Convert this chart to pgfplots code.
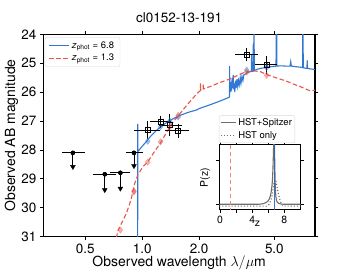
\documentclass[border=0pt]{standalone}
\usepackage{fontspec}
\setmainfont{TeX Gyre Heros}
\usepackage{pgfplots}
\usepackage{pgfplotstable}
\pgfplotsset{compat=1.18}
\usetikzlibrary{arrows.meta}
\definecolor{cblue}{RGB}{50,120,210}
\definecolor{cred}{RGB}{232,85,75}
\definecolor{cgray}{RGB}{110,110,110}

\pgfplotstableread{
x y xm xp ye
1.07 27.31 0.14 0.14 0.22
1.25 27.02 0.12 0.13 0.12
1.40 27.14 0.13 0.17 0.30
1.55 27.33 0.18 0.17 0.15
3.57 24.71 0.37 0.38 0.14
4.55 25.05 0.45 0.47 0.22
}\detections

\pgfplotstableread{
x y xm xp ye ytip
0.430 28.10 0.041 0.050 0.48 28.58
0.634 28.84 0.069 0.073 0.54 29.38
0.767 28.79 0.067 0.073 0.54 29.33
0.905 28.10 0.057 0.073 0.45 28.55
}\ulims

\begin{document}
\begin{tikzpicture}
\path[use as bounding box] (0,0) rectangle (349bp,279bp);
\begin{axis}[
  at={(43.3bp,42.3bp)}, anchor=south west,
  scale only axis, width=271.7bp, height=202.4bp,
  xmode=log, xmin=0.30, xmax=8.2, ymin=24, ymax=31, y dir=reverse,
  xtick={0.5,1,2,5}, xticklabels={0.5,1.0,2.0,5.0}, xminorticks=false,
  ytick={24,25,26,27,28,29,30,31},
  tick align=outside, major tick length=3.5bp,
  tick style={black, line width=0.8bp},
  axis line style={line width=1.1bp},
  ticklabel style={font=\fontsize{13.5}{15}\selectfont},
  /pgf/number format/assume math mode=true,
  title={cl0152-13-191},
  title style={font=\fontsize{13.5}{15}\selectfont, at={(axis description cs:0.5,1)}, anchor=base, yshift=5.5bp, inner sep=0pt},
  xlabel={Observed wavelength $\lambda/\mu$m},
  xlabel style={font=\fontsize{14}{16}\selectfont, at={(axis description cs:0.5,-0.148)}, anchor=base, inner sep=0pt},
  ylabel={Observed AB magnitude},
  ylabel style={font=\fontsize{14}{16}\selectfont, at={(axis description cs:-0.104,0.5)}, anchor=base, rotate=0, inner sep=0pt},
  legend cell align=left,
  legend image code/.code={\draw[#1] (0bp,0bp) -- (20bp,0bp);},
  legend style={at={(axis description cs:0.005,0.985)}, anchor=north west,
    draw=black!15, rounded corners=2bp, fill=white,
    font=\fontsize{9.5}{11}\selectfont, inner xsep=4bp, inner ysep=2bp,
    row sep=0.5bp, nodes={inner sep=2bp}},
]
% models
\addplot[cblue, line width=1.1bp] coordinates {
(0.30,35) (0.946,35) (0.9475,27.1) (0.9495,28.05) (0.97,27.98) (1.0,27.87) (1.05,27.72) (1.1,27.55) (1.2,27.3) (1.3,27.12) (1.4,26.98) (1.55,26.83) (1.75,26.7) (1.93,26.62) (2.0,26.57) (2.3,26.43) (2.6,26.3) (2.88,26.18) (2.895,26.16) (2.90,25.1) (2.905,25.9) (2.93,25.75) (2.94,26.0) (2.95,25.65) (2.97,25.95) (2.99,25.5) (3.0,25.85) (3.02,25.6) (3.03,25.4) (3.04,25.9) (3.07,25.7) (3.09,26.0) (3.11,25.6) (3.14,25.85) (3.17,25.55) (3.2,25.8) (3.23,25.6) (3.26,25.75) (3.3,25.5) (3.33,25.7) (3.37,25.45) (3.41,25.6) (3.45,25.4) (3.5,25.38) (3.6,25.33) (3.7,25.3) (3.78,25.28) (3.79,24.7) (3.80,25.28) (3.86,25.27) (3.87,24.3) (3.88,25.26) (3.90,25.25) (3.905,23.0) (3.915,25.25) (4.1,25.2) (4.3,25.17) (4.57,25.14) (4.58,24.95) (4.59,25.14) (4.8,25.12) (5.0,25.11) (5.10,25.1) (5.13,23.0) (5.16,25.1) (5.4,25.09) (5.8,25.1) (6.05,25.1) (6.1,24.95) (6.15,25.1) (6.5,25.12) (6.9,25.14) (7.05,25.15) (7.08,23.0) (7.11,25.16) (7.3,25.17) (7.43,25.18) (7.46,24.9) (7.49,25.18) (7.8,25.2) (8.3,25.22)
};
\addlegendentry{\textit{z}\textsubscript{phot} = 6.8}
\addplot[cred, line width=1.1bp, dash pattern=on 4.5bp off 2.5bp] coordinates {
(0.65,32.2) (0.70,31.6) (0.745,30.78) (0.79,30.45) (0.825,30.19) (0.855,29.9) (0.877,29.67) (0.895,29.4) (0.913,29.16) (0.95,28.85) (1.01,28.58) (1.07,28.41) (1.15,28.1) (1.26,27.72) (1.33,27.45) (1.40,27.2) (1.47,27.0) (1.55,26.83) (1.65,26.6) (1.75,26.4) (1.85,26.22) (1.95,26.05) (2.0,25.98) (2.03,25.95) (2.035,25.7) (2.04,25.94) (2.10,25.9) (2.105,25.72) (2.11,25.89) (2.3,25.8) (2.57,25.67) (2.9,25.55) (3.2,25.42) (3.48,25.31) (3.8,25.27) (4.18,25.28) (4.5,25.38) (4.72,25.43) (5.2,25.52) (5.8,25.62) (6.3,25.72) (6.8,25.8) (7.2,25.87) (7.7,25.95) (8.3,25.93)
};
\addlegendentry{\textit{z}\textsubscript{phot} = 1.3}
% model photometry
\addplot[forget plot, only marks, mark=diamond*, mark size=3.2bp, mark options={draw=cblue, fill=cblue, opacity=0.45}] coordinates {
(1.07,27.70) (1.25,27.2) (1.40,27.0) (1.55,26.86) (3.57,25.24) (4.55,25.15)};
\addplot[forget plot, only marks, mark=diamond*, mark size=3.2bp, mark options={draw=cred, fill=cred, opacity=0.45}] coordinates {
(0.767,30.77) (0.905,29.45) (0.905,29.42) (1.07,28.42) (1.25,27.72) (1.40,27.2) (1.55,26.80) (3.57,25.31) (4.55,25.42)};
% detections
\addplot[forget plot, black, only marks, mark=square, mark size=2.5bp, mark options={black, line width=0.8bp, fill=none},
  error bars/.cd, x dir=both, x explicit, y dir=both, y explicit,
  error bar style={black, line width=0.8bp}, error mark options={black, mark size=2.6bp, line width=0.8bp}]
  table[x=x, y=y, x error plus=xp, x error minus=xm, y error=ye] {\detections};
% upper limits: horizontal bars
\addplot[forget plot, black, only marks, mark=none,
  error bars/.cd, x dir=both, x explicit,
  error bar style={black, line width=0.8bp}, error mark options={black, mark size=2.6bp, line width=0.8bp}]
  table[x=x, y=y, x error plus=xp, x error minus=xm] {\ulims};
% upper limits: vertical stems
\addplot[forget plot, black, only marks, mark=none,
  error bars/.cd, y dir=plus, y explicit, error mark=none,
  error bar style={black, line width=0.8bp}]
  table[x=x, y=y, y error=ye] {\ulims};
% upper limits: arrow heads
\addplot[forget plot, black, only marks, mark=triangle*, mark size=2.8bp,
  mark options={black, fill=black, rotate=180}]
  table[x=x, y=ytip] {\ulims};
\end{axis}

\begin{axis}[
  at={(219.3bp,69bp)}, anchor=south west,
  scale only axis, width=81.4bp, height=65bp,
  xmin=-0.09, xmax=10.03, ymin=-0.129, ymax=1.338,
  xtick={0,2,4,6,8}, xticklabels={0,,4,,8},
  ytick={0,1}, yticklabels={},
  tick align=outside, major tick length=3bp,
  tick style={black, line width=0.7bp},
  axis line style={line width=1.0bp},
  axis background/.style={fill=white},
  ticklabel style={font=\fontsize{10.5}{12}\selectfont},
  /pgf/number format/assume math mode=true,
  xlabel={z},
  xlabel style={font=\fontsize{10.5}{12}\selectfont, at={(axis description cs:0.47,-0.257)}, anchor=base, inner sep=0pt},
  ylabel={P(z)},
  ylabel style={font=\fontsize{10.5}{12}\selectfont, at={(axis description cs:-0.139,0.5)}, anchor=base, inner sep=0pt},
  legend cell align=left,
  legend image code/.code={\draw[#1] (0bp,0bp) -- (15bp,0bp);},
  legend style={at={(axis description cs:-0.004,1.031)}, anchor=south west,
    draw=black!15, rounded corners=2bp, fill=white,
    font=\fontsize{9.5}{11}\selectfont, inner xsep=1bp, inner ysep=1bp,
    row sep=0bp, nodes={inner sep=2bp}},
]
\addplot[cgray, line width=1.1bp] coordinates {
(-0.1,0) (4.8,0) (5.3,0.01) (5.6,0.03) (5.9,0.06) (6.1,0.11) (6.25,0.18) (6.35,0.27) (6.45,0.40) (6.52,0.55) (6.58,0.80) (6.63,1.10) (6.68,1.45) (6.72,1.6) (6.76,1.45) (6.8,1.0) (6.84,0.6) (6.88,0.35) (6.93,0.2) (7.0,0.1) (7.1,0.05) (7.3,0.02) (7.6,0.005) (8,0) (10.1,0)
};
\addlegendentry{HST+Spitzer}
\addplot[cgray, line width=1.1bp, dotted] coordinates {
(-0.1,-0.04) (5.8,-0.04) (6.1,0.0) (6.3,0.08) (6.45,0.18) (6.58,0.32) (6.7,0.48) (6.8,0.55) (6.9,0.55) (7.0,0.48) (7.1,0.38) (7.28,0.22) (7.45,0.1) (7.6,0.02) (7.8,-0.03) (8.0,-0.04) (10.1,-0.04)
};
\addlegendentry{HST only}
\addplot[forget plot, cblue!85!black, line width=1.3bp, opacity=0.9] coordinates {(6.8,-0.5) (6.8,2)};
\addplot[forget plot, cred!70, line width=1.1bp, dash pattern=on 4.5bp off 2.5bp] coordinates {(1.3,-0.5) (1.3,2)};
\end{axis}
\end{tikzpicture}
\end{document}
